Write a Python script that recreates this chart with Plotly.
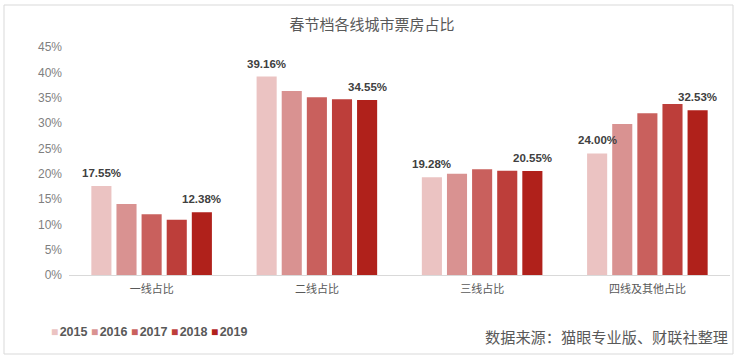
import plotly.graph_objects as go

categories = ["一线占比", "二线占比", "三线占比", "四线及其他占比"]
years = ["2015", "2016", "2017", "2018", "2019"]
values = {
    "2015": [17.55, 39.16, 19.28, 24.00],
    "2016": [14.0, 36.3, 20.0, 29.8],
    "2017": [12.0, 35.1, 20.85, 31.9],
    "2018": [10.9, 34.7, 20.6, 33.75],
    "2019": [12.38, 34.55, 20.55, 32.53],
}
labelled_years = ["2015", "2019"]
colors = ["#EBC3C2", "#D99291", "#C9605D", "#BD3E3A", "#B0211B"]
y_ticks = [0, 5, 10, 15, 20, 25, 30, 35, 40, 45]

FONT = "Liberation Sans, Arial, Noto Sans CJK SC, sans-serif"
CJK = "Noto Sans CJK SC, sans-serif"

W, H = 744, 360
L, R, T, B = 69, 14, 47, 85
pw, ph = W - L - R, H - T - B
BARGAP, GROUPGAP = 0.24, 0.2
slot = pw / len(categories) * (1 - BARGAP) / len(years)

def px_x(p):
    return (p - L) / pw

def px_y(p):
    return (H - B - p) / ph

fig = go.Figure()
annotations = []
for i, (yr, col) in enumerate(zip(years, colors)):
    vals = values[yr]
    fig.add_trace(go.Bar(
        name=yr, x=categories, y=vals, marker=dict(color=col, line=dict(width=0)),
        showlegend=False, hovertemplate="%{x} " + yr + ": %{y:.2f}%<extra></extra>",
    ))
    if yr in labelled_years:
        for c, v in zip(categories, vals):
            annotations.append(dict(
                xref="x", yref="y", x=c, y=v, xshift=(i - (len(years) - 1) / 2) * slot,
                yshift=13, xanchor="center", yanchor="middle", showarrow=False,
                text=f"<b>{v:.2f}%</b>",
                font=dict(family=FONT, size=11.5, color="#404040"),
            ))

for i, (yr, col) in enumerate(zip(years, colors)):
    annotations.append(dict(
        xref="paper", yref="paper", x=px_x(48.5 + 40.2 * i), y=px_y(332),
        xanchor="left", yanchor="middle", showarrow=False,
        text=(f'<span style="color:{col};font-size:12px">■</span>'
              f'<span style="font-size:5px"> </span><b>{yr}</b>'),
        font=dict(family=FONT, size=12.5, color="#595959"),
    ))
annotations.append(dict(
    xref="paper", yref="paper", x=px_x(730), y=px_y(336),
    xanchor="right", yanchor="middle", showarrow=False,
    text="数据来源：猫眼专业版、财联社整理",
    font=dict(family=CJK, size=15.2, color="#595959"),
))

fig.update_layout(
    width=W, height=H,
    margin=dict(l=L, r=R, t=T, b=B, pad=0),
    paper_bgcolor="white", plot_bgcolor="white",
    title=dict(text="春节档各线城市票房占比", x=0.5, xanchor="center",
               y=1 - 25 / H, yanchor="middle",
               font=dict(family=CJK, size=15, color="#595959")),
    barmode="group", bargap=BARGAP, bargroupgap=GROUPGAP,
    annotations=annotations,
    shapes=[dict(type="rect", xref="paper", yref="paper",
                 x0=px_x(4), x1=px_x(733), y0=px_y(354), y1=px_y(5),
                 line=dict(color="#D9D9D9", width=1), fillcolor="rgba(0,0,0,0)", layer="below")],
    xaxis=dict(showgrid=False, showline=True, linecolor="#D9D9D9", linewidth=1,
               ticks="", tickfont=dict(family=CJK, size=11, color="#595959"),
               ticklabelstandoff=4),
    yaxis=dict(range=[0, 45], tickvals=y_ticks, ticktext=[f"{t}%" for t in y_ticks],
               showgrid=False, zeroline=False, showline=False, ticks="",
               tickfont=dict(family=FONT, size=12, color="#7F7F7F"), ticklabelstandoff=6),
    showlegend=False,
)

fig.write_html(
    "out.html",
    config={"displayModeBar": False},
    post_script="document.body.style.margin='0';document.body.style.padding='0';",
)
